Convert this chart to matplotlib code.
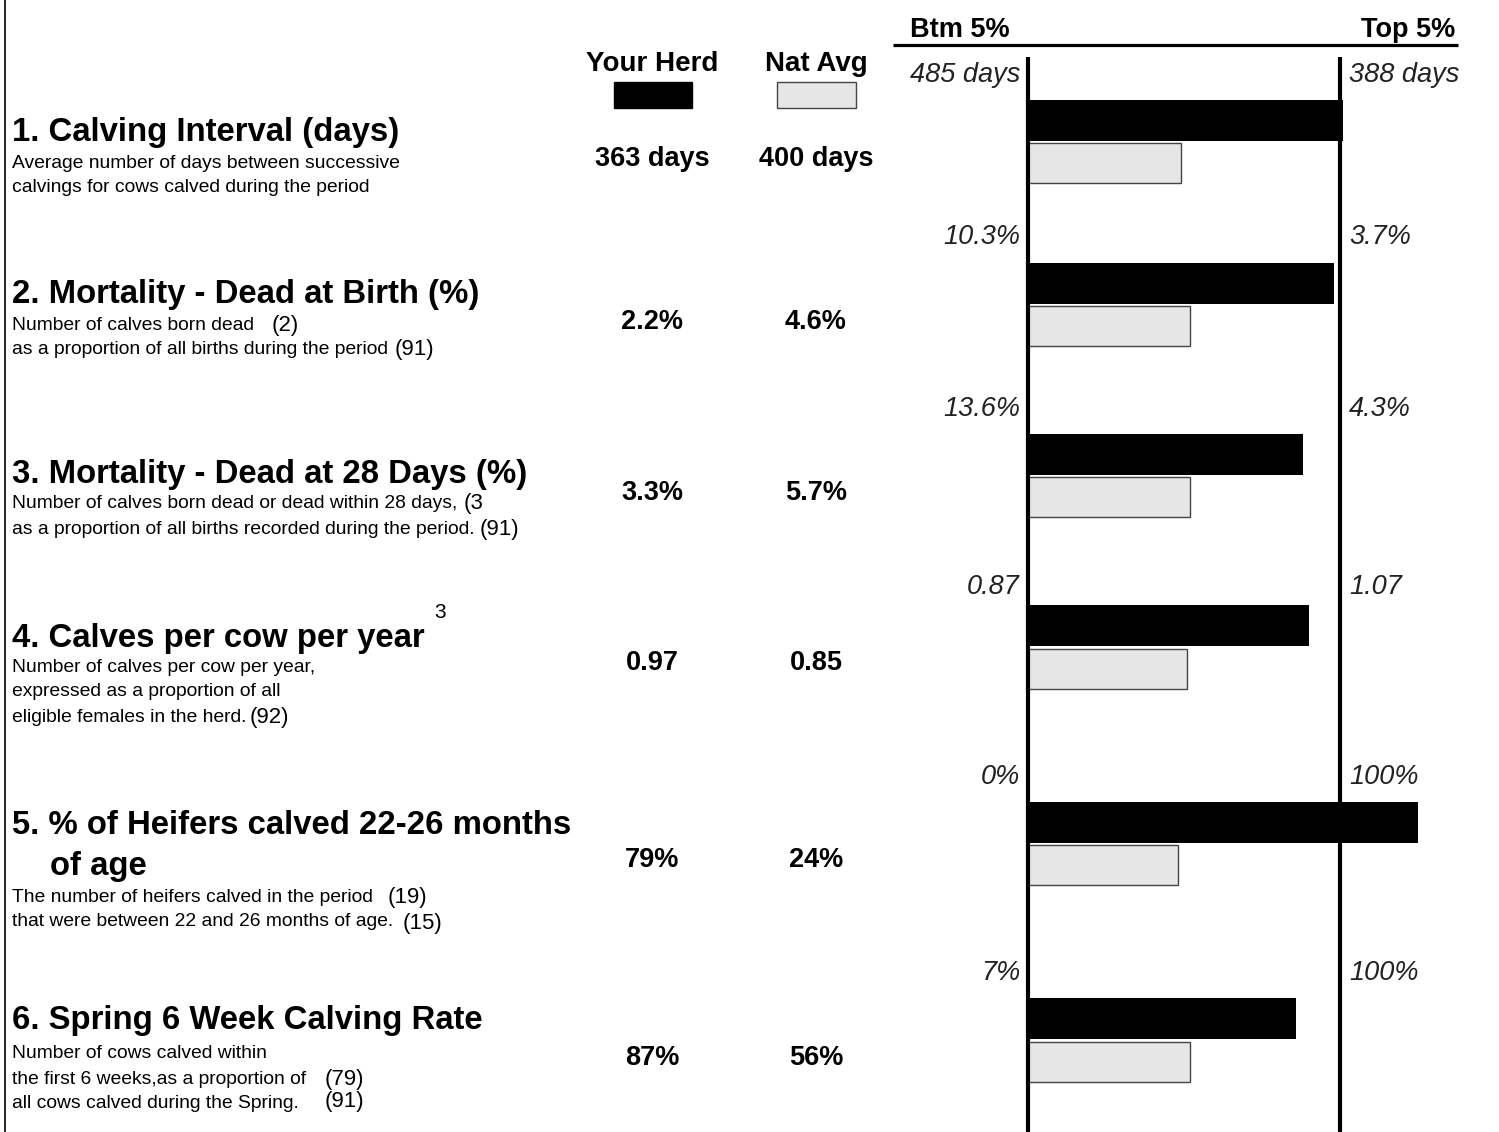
import matplotlib
matplotlib.use("Agg")
import matplotlib.pyplot as plt
from matplotlib import font_manager

names = {f.name for f in font_manager.fontManager.ttflist}
FONT = "Liberation Sans Narrow" if "Liberation Sans Narrow" in names else "Liberation Sans"
plt.rcParams["font.family"] = [FONT, "DejaVu Sans"]

# data
titles = ["1. Calving Interval (days)",
          "2. Mortality - Dead at Birth (%)",
          "3. Mortality - Dead at 28 Days (%)",
          "4. Calves per cow per year",
          "5. % of Heifers calved 22-26 months",
          "6. Spring 6 Week Calving Rate"]
subtitles = [["Average number of days between successive",
              "calvings for cows calved during the period"],
             ["Number of calves born dead",
              "as a proportion of all births during the period"],
             ["Number of calves born dead or dead within 28 days,",
              "as a proportion of all births recorded during the period."],
             ["Number of calves per cow per year,",
              "expressed as a proportion of all",
              "eligible females in the herd."],
             ["The number of heifers calved in the period",
              "that were between 22 and 26 months of age."],
             ["Number of cows calved within",
              "the first 6 weeks,as a proportion of",
              "all cows calved during the Spring."]]
your_herd = ["363 days", "2.2%", "3.3%", "0.97", "79%", "87%"]
nat_avg = ["400 days", "4.6%", "5.7%", "0.85", "24%", "56%"]
btm_5 = ["485 days", "10.3%", "13.6%", "0.87", "0%", "7%"]
top_5 = ["388 days", "3.7%", "4.3%", "1.07", "100%", "100%"]
# position of the value between bottom 5% (0) and top 5% (1)
herd_score = [1.01, 0.98, 0.88, 0.90, 1.25, 0.86]
nat_score = [0.49, 0.52, 0.52, 0.51, 0.48, 0.52]

# layout (pixels)
W, H = 1499, 1132
row_y = [141.5, 304.5, 475.5, 647, 843.5, 1040]
title_y = [133, 295, 475, 638, 825, 1021]
sub_y = [163, 325, 504, 667, 897, 1054]
value_y = [159, 322, 493, 663, 860, 1058]
label_y = [75, 237, 409, 587, 777, 973]
X0, X1 = 1028, 1340
BH = 41

fig = plt.figure(figsize=(W / 100, H / 100), dpi=100)
ax = fig.add_axes([0, 0, 1, 1])
ax.set_xlim(0, W)
ax.set_ylim(H, 0)
ax.axis("off")

span = X1 - X0
ax.barh([y - 21.5 for y in row_y], [s * span for s in herd_score], height=BH,
        left=X0, color="black", edgecolor="none")
ax.barh([y + 21.5 for y in row_y], [s * span for s in nat_score], height=BH - 1,
        left=X0, color="#e6e6e6", edgecolor="#444444", linewidth=1)

ax.vlines([X0, X1], 57, H, color="black", linewidth=3)
ax.hlines(45, 893, 1458, color="black", linewidth=2.3)
ax.vlines(5, 0, H, color="black", linewidth=1.2)

ax.text(910, 30, "Btm 5%", fontsize=19.5, fontweight="bold", ha="left", va="center")
ax.text(1455, 30, "Top 5%", fontsize=19.5, fontweight="bold", ha="right", va="center")

ax.text(652, 64, "Your Herd", fontsize=20, fontweight="bold", ha="center", va="center")
ax.text(816, 64, "Nat Avg", fontsize=20, fontweight="bold", ha="center", va="center")
ax.add_patch(plt.Rectangle((614, 82), 78, 26, color="black"))
ax.add_patch(plt.Rectangle((777, 82), 79, 26, facecolor="#e6e6e6", edgecolor="#444444", linewidth=1))

for i in range(6):
    ax.text(652, value_y[i], your_herd[i], fontsize=19.5, fontweight="bold", ha="center", va="center")
    ax.text(816, value_y[i], nat_avg[i], fontsize=19.5, fontweight="bold", ha="center", va="center")
    ax.text(1020, label_y[i], btm_5[i], fontsize=19.5, style="italic", color="#222222", ha="right", va="center")
    ax.text(1349, label_y[i], top_5[i], fontsize=19.5, style="italic", color="#222222", ha="left", va="center")
    ax.text(12, title_y[i], titles[i], fontsize=23.7, fontweight="bold", ha="left", va="center")
    for j, line in enumerate(subtitles[i]):
        ax.text(12, sub_y[i] + j * 25, line, fontsize=13.9, ha="left", va="center")

ax.text(50, 867, "of age", fontsize=23.7, fontweight="bold", ha="left", va="center")
ax.text(434, 613, "3", fontsize=15, ha="left", va="center")

# counts in brackets
counts = [("(2)", 272, 325), ("(91)", 395, 350), ("(3", 464, 504), ("(91)", 480, 529),
          ("(92)", 250, 718), ("(19)", 388, 897), ("(15)", 403, 923),
          ("(79)", 325, 1079), ("(91)", 325, 1102)]
for txt, x, y in counts:
    ax.text(x, y, txt, fontsize=16, ha="left", va="center")

fig.savefig("out.png", dpi=100)
